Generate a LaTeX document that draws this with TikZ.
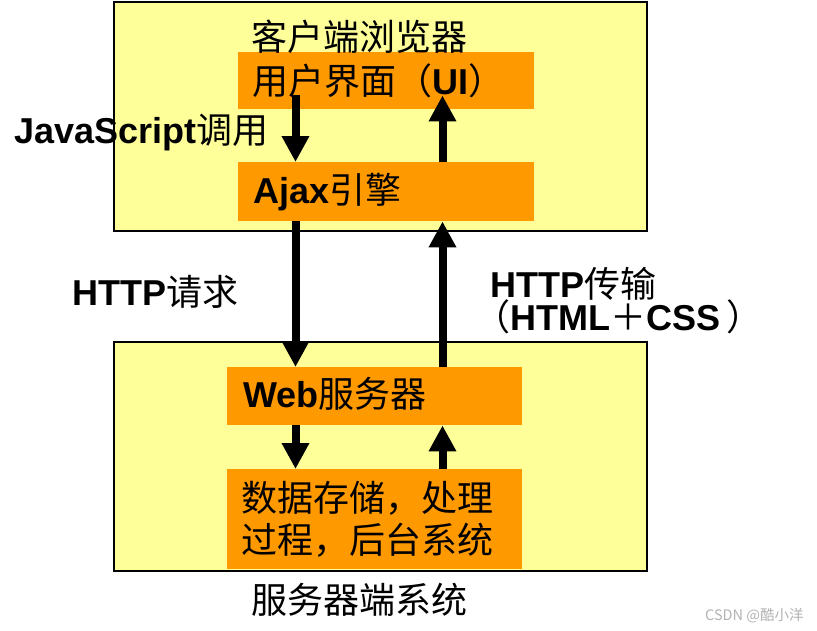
\documentclass[tikz,border=0pt]{standalone}
\usepackage{fontspec}
\setmainfont{Noto Sans CJK SC}
\newfontfamily\latfam{Liberation Sans}
\newcommand\LB[1]{{\latfam\bfseries #1}}
\usetikzlibrary{arrows.meta,calc}
\definecolor{paleyellow}{RGB}{255,255,153}
\definecolor{boxorange}{RGB}{255,153,0}
\tikzset{
  outerbox/.style={draw=black, line width=2.2pt, fill=paleyellow, inner sep=0pt, anchor=north west},
  innerbox/.style={fill=boxorange, inner sep=0pt, anchor=north west},
  lbl/.style={inner sep=0pt, anchor=base west},
  flow/.style={line width=8pt, -{Triangle[length=26pt,width=26pt]}},
}
\begin{document}
\begin{tikzpicture}[x=1pt,y=-1pt,font=\fontsize{36}{42}\selectfont]
\useasboundingbox (0,0) rectangle (817,630);
% containers
\node[outerbox, minimum width=533pt, minimum height=229pt] (client) at (113,1) {};
\node[outerbox, minimum width=533pt, minimum height=229pt] (server) at (113,341) {};
% inner boxes
\node[innerbox, minimum width=296pt, minimum height=57pt] (ui) at (238,52) {};
\node[innerbox, minimum width=296pt, minimum height=59pt] (ajax) at (238,162) {};
\node[innerbox, minimum width=295pt, minimum height=58pt] (web) at (227,367) {};
\node[innerbox, minimum width=295pt, minimum height=100pt] (data) at (227,469) {};
% connector columns
\coordinate (c1) at (295.5,0);
\coordinate (c2) at (442.5,0);
% arrows
\draw[flow] ($(ui.south -| c1)+(0,-14)$) -- (ajax.north -| c1);
\draw[flow] (ajax.north -| c2) -- ($(ui.south -| c2)+(0,-14)$);
\draw[flow] (ajax.south -| c1) -- (web.north -| c1);
\draw[flow] (web.north -| c2) -- (ajax.south -| c2);
\draw[flow] (web.south -| c1) -- (data.north -| c1);
\draw[flow] (data.north -| c2) -- (web.south -| c2);
% texts
\node[lbl] (t1) at (251,50) {客户端浏览器};
\node[lbl] (t2) at (252,94) {用户界面（\LB{UI}）};
\node[lbl] (t3) at (253,203) {\LB{Ajax}引擎};
\node[lbl] (t4) at (14,143) {\LB{JavaScript}调用};
\node[lbl] (t5) at (72,305) {\LB{HTTP}请求};
\node[lbl] (t6) at (490,297) {\LB{HTTP}传输};
\node[lbl] (t7) at (474,330) {（\LB{HTML}＋\LB{CSS}\,）};
\node[lbl] (t8) at (243,407) {\LB{Web}服务器};
\node[lbl] (t9) at (241,511) {数据存储，处理};
\node[lbl] (t10) at (241,553) {过程，后台系统};
\node[lbl] (t11) at (251,613) {服务器端系统};
\node[lbl, font=\fontsize{14.5}{16}\selectfont, text=black!30] (wm) at (705,620) {CSDN @酷小洋};
\end{tikzpicture}
\end{document}
